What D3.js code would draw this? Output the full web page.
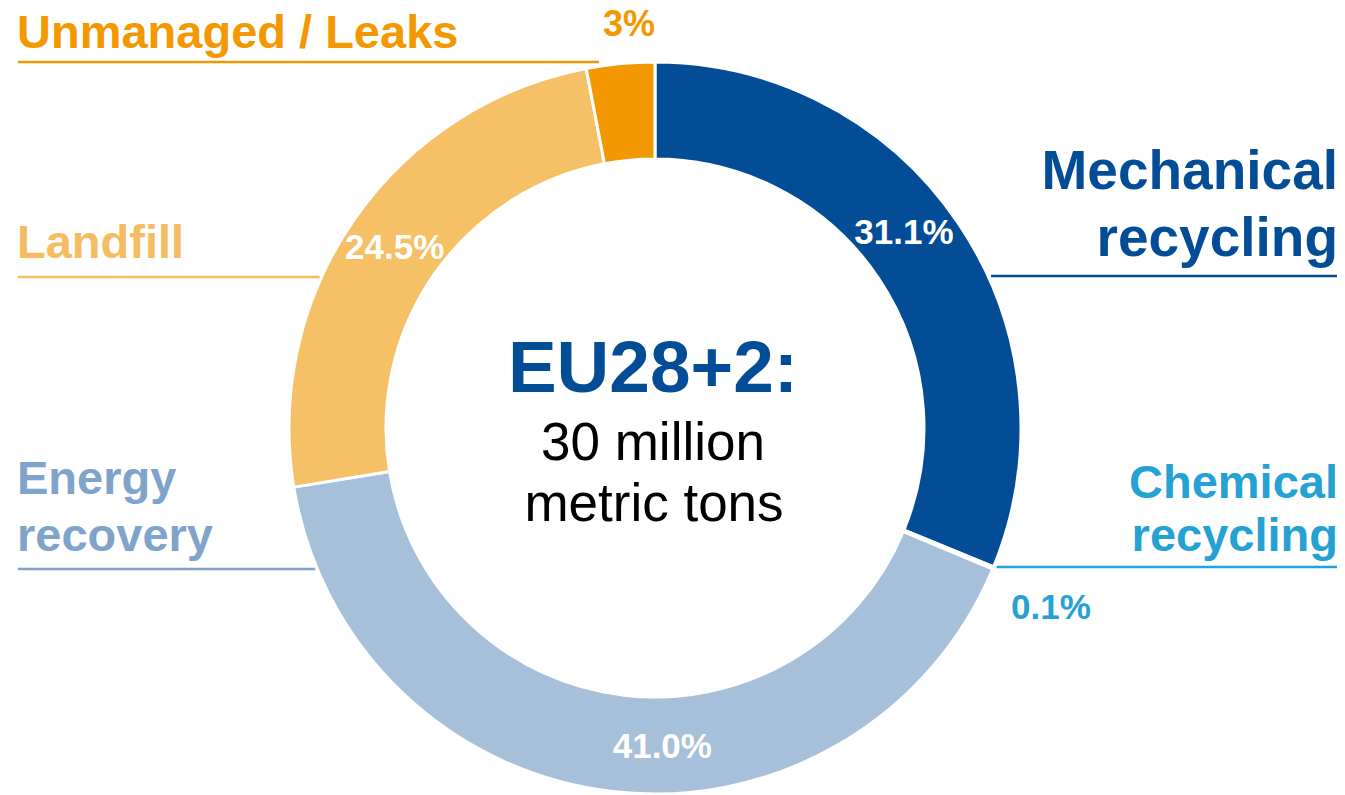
<!DOCTYPE html>
<html>
<head>
<meta charset="utf-8">
<script src="https://cdn.jsdelivr.net/npm/d3@7"></script>
<style>
  body { margin: 0; background: #fff; }
  svg { display: block; font-family: "Liberation Sans", Arial, sans-serif; }
</style>
</head>
<body>
<div class="chart"></div>
<script>

// data (share of plastic waste treatment, %)
const categories = ["Mechanical recycling", "Chemical recycling", "Energy recovery", "Landfill", "Unmanaged / Leaks"]
const values = [31.1, 0.1, 41.0, 24.5, 3]
const valueLabels = ["31.1%", "0.1%", "41.0%", "24.5%", "3%"]
const labelLines = [["Mechanical", "recycling"], ["Chemical", "recycling"], ["Energy", "recovery"], ["Landfill"], ["Unmanaged / Leaks"]]

const sliceColors = ["#034c96", "#2aa3d6", "#a7c0da", "#f6c067", "#f39800"]
const textColors = ["#034c96", "#25a1d4", "#7fa3ca", "#f5bc62", "#f39800"]

// layout
const width = 1345, height = 795
const cx = 655, cy = 428
const outerR = 366, innerR = 269

const svg = d3.select(".chart").append("svg")
    .attr("width", width)
    .attr("height", height)

const g = svg.append("g")
    .attr("transform", `translate(${cx},${cy})`)

const data = categories.map((c, i) => ({ cat: c, value: values[i], i: i }))

const pie = d3.pie()
    .sort(null)
    .value(d => d.value)

const arc = d3.arc()
    .innerRadius(innerR)
    .outerRadius(outerR)

const arcs = pie(data)

g.selectAll(".slice")
    .data(arcs)
    .join("path")
    .attr("class", "slice")
    .attr("fill", d => sliceColors[d.data.i])
    .attr("stroke", "#fff")
    .attr("stroke-width", 3)
    .attr("d", arc)

// inside % labels (only the bigger slices), nudged a bit like the original
const nudge = { 0: -4.5, 2: -8, 3: 0 }
const midR = (innerR + outerR) / 2
g.selectAll(".pct")
    .data(arcs.filter(d => d.data.i in nudge))
    .join("text")
    .attr("class", "pct")
    .attr("x", d => {
        let a = (d.startAngle + d.endAngle) / 2 + nudge[d.data.i] * Math.PI / 180
        return midR * Math.sin(a)
    })
    .attr("y", d => {
        let a = (d.startAngle + d.endAngle) / 2 + nudge[d.data.i] * Math.PI / 180
        return -midR * Math.cos(a)
    })
    .attr("dy", "0.36em")
    .attr("text-anchor", "middle")
    .attr("fill", "#fff")
    .attr("font-weight", "bold")
    .attr("font-size", 35)
    .text(d => valueLabels[d.data.i])

// outer category labels with underline leaders
// side: which side of the page, lineY: leader y, baselines of the label lines
const outside = [
    { i: 0, side: "right", lineY: 276, base: [189, 256], size: 55 },
    { i: 1, side: "right", lineY: 567, base: [498, 551], size: 47 },
    { i: 2, side: "left", lineY: 569, base: [494, 551], size: 47 },
    { i: 3, side: "left", lineY: 277, base: [258], size: 47 },
    { i: 4, side: "left", lineY: 62, base: [48], size: 47, stopX: 599 }
]

function circleX(y, side) {
    let dy = y - cy
    let dx = Math.sqrt(Math.max(0, outerR * outerR - dy * dy))
    return side == "left" ? cx - dx - 2 : cx + dx + 3
}

outside.forEach(o => {
    let col = textColors[o.i]
    let x0 = o.side == "left" ? 18 : 1337
    let x1 = o.stopX || circleX(o.lineY, o.side)

    svg.append("line")
        .attr("x1", x0).attr("x2", x1)
        .attr("y1", o.lineY).attr("y2", o.lineY)
        .attr("stroke", col)
        .attr("stroke-width", 2.5)

    labelLines[o.i].forEach((t, k) => {
        svg.append("text")
            .attr("x", o.side == "left" ? 17 : 1338)
            .attr("y", o.base[k])
            .attr("text-anchor", o.side == "left" ? "start" : "end")
            .attr("fill", col)
            .attr("font-weight", "bold")
            .attr("font-size", o.size)
            .text(t)
    })
})

// small slices get their % outside
svg.append("text")
    .attr("x", 629).attr("y", 36)
    .attr("text-anchor", "middle")
    .attr("fill", textColors[4])
    .attr("font-weight", "bold")
    .attr("font-size", 36)
    .text(valueLabels[4])

svg.append("text")
    .attr("x", 1051).attr("y", 619)
    .attr("text-anchor", "middle")
    .attr("fill", textColors[1])
    .attr("font-weight", "bold")
    .attr("font-size", 35)
    .text(valueLabels[1])

// centre text
svg.append("text")
    .attr("x", 653).attr("y", 392)
    .attr("text-anchor", "middle")
    .attr("fill", "#034c96")
    .attr("font-weight", "bold")
    .attr("font-size", 73)
    .text("EU28+2:")

svg.append("text")
    .attr("x", 653).attr("y", 460)
    .attr("text-anchor", "middle")
    .attr("fill", "#000")
    .attr("font-size", 53)
    .text("30 million")

svg.append("text")
    .attr("x", 654).attr("y", 521)
    .attr("text-anchor", "middle")
    .attr("fill", "#000")
    .attr("font-size", 53)
    .text("metric tons")

</script>
</body>
</html>
